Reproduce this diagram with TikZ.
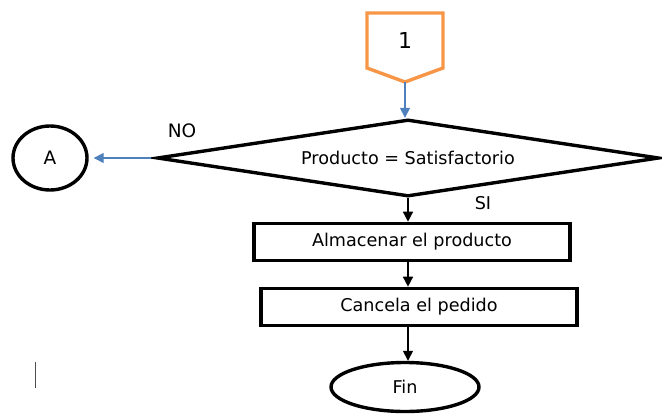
\documentclass[tikz,border=0pt]{standalone}
\usepackage{fontspec}
\setmainfont{DejaVu Sans}
\usetikzlibrary{shapes.geometric,arrows.meta}
\definecolor{connorange}{HTML}{F79646}
\definecolor{arrowblue}{HTML}{4F81BD}

\begin{document}
\begin{tikzpicture}[x=1pt,y=-1pt,
	font=\fontsize{17.6}{21}\selectfont,
	flow/.style={-{Triangle[length=10pt,width=10pt]}, line width=1.4pt},
	blueflow/.style={flow, color=arrowblue},
	process/.style={draw, line width=3.6pt, minimum width=316pt, minimum height=37pt, inner sep=0pt},
	decision/.style={draw, diamond, line width=3.4pt, aspect=6.4, minimum width=502pt, minimum height=77pt, inner sep=0pt},
	terminal/.style={draw, ellipse, line width=3.4pt, inner sep=0pt}]
	\useasboundingbox (0,0) rectangle (662,413);

	% Off-page connector
	\draw[color=connorange, line width=3.4pt] (367,13) -- (443,13) -- (443,68) -- (405,82) -- (367,68) -- cycle;
	\node (one) at (405,40) {\fontsize{22}{26}\selectfont 1};
	\coordinate (tip) at (405,82);

	% Decision
	\node[decision] (test) at (408,158) {Producto = Satisfactorio};
	\draw[blueflow] (tip) -- (tip |- test.north);

	% NO branch
	\node[terminal, minimum width=74pt, minimum height=64pt] (conA) at (50,158) {\fontsize{18.5}{22}\selectfont A};
	\draw[blueflow, shorten <=4pt, shorten >=5pt] (test.west) -- (conA.east);
	\node (no) at (182,131) {\fontsize{18.5}{22}\selectfont NO};

	% SI branch
	\node (si) at (483,203) {SI};
	\node[process] (store) at (412,242) {Almacenar el producto};
	\node[process] (cancel) at (419,307) {Cancela el pedido};
	\node[terminal, minimum width=148pt, minimum height=49pt] (fin) at (405,387) {Fin};
	\draw[flow] (test.south) -- (test.south |- store.north);
	\draw[flow] (store.south -| test.south) -- (cancel.north -| test.south);
	\draw[flow] (cancel.south -| test.south) -- (fin.north -| test.south);

	% Cursor mark
	\draw[line width=0.6pt, color=black!70] (35,362) -- (35,388);
\end{tikzpicture}
\end{document}
